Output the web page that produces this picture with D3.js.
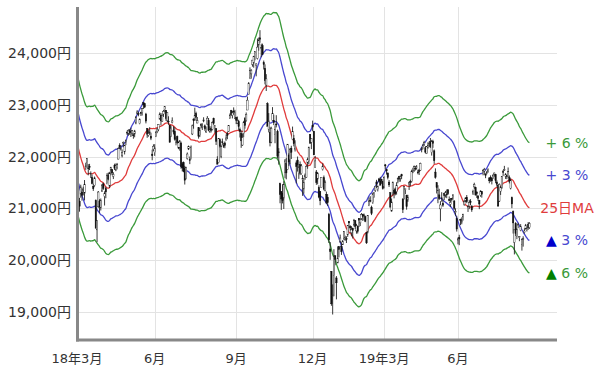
<!DOCTYPE html>
<html>
<head>
<meta charset="utf-8">
<script src="https://cdn.jsdelivr.net/npm/d3@7"></script>
<style>
body { margin: 0; background: #fff; }
text { font-family: "DejaVu Sans", Verdana, "Noto Sans CJK JP", sans-serif; }
</style>
</head>
<body>
<script>
// 日経平均 日足 [始値, 高値, 安値, 終値]
var prior_close = [23669,23631,23629,23291,23098,23486,23274,22682,21610,21645,21891,21383,
	21245,21154,21464,21720,22149,21925,21970,21736,21892,22153,22389,22068];

var m1803 = [[21901,21930,21630,21724],[21469,21517,21083,21181],[21141,21204,20937,21042],[21277,21459,21208,21417],
	[21318,21397,21150,21252],[21353,21421,21252,21368],[21295,21549,21155,21469],[21788,21884,21746,21824],
	[21890,21971,21785,21968],[21782,21857,21640,21777],[21808,21862,21742,21803],[21669,21716,21588,21676],
	[21600,21658,21466,21480],[21430,21478,21339,21380],[21444,21616,21420,21591],[21157,21174,20617,20617],
	[20585,20766,20347,20766],[21030,21337,21012,21317],[21146,21179,20908,21031],[21012,21192,20960,21159],
	[21334,21468,21318,21454]];
var m1804 = [[21476,21498,21359,21388],[21231,21331,21056,21292],[21382,21422,21197,21319],[21477,21682,21466,21645],
	[21644,21695,21544,21567],[21430,21708,21393,21678],[21741,21804,21640,21794],[21756,21757,21655,21687],
	[21620,21700,21568,21660],[21837,21865,21743,21778],[21742,21869,21720,21835],[21789,21880,21755,21847],
	[21954,22183,21950,22158],[22220,22260,22152,22191],[22162,22227,22120,22162],[22016,22141,21987,22088],
	[22265,22294,22183,22278],[22095,22230,22044,22215],[22282,22333,22224,22319],[22473,22504,22421,22467]];
var m1805 = [[22455,22531,22406,22508],[22500,22535,22423,22472],[22488,22561,22381,22467],[22455,22517,22404,22508],
	[22421,22452,22348,22408],[22440,22519,22376,22497],[22652,22790,22628,22758],[22837,22900,22822,22865],
	[22835,22869,22782,22818],[22640,22742,22628,22717],[22857,22869,22789,22838],[22853,22942,22796,22930],
	[23050,23050,22924,23002],[23030,23030,22940,22960],[22826,22849,22645,22689],[22549,22550,22366,22437],
	[22411,22513,22388,22450],[22462,22572,22424,22481],[22398,22465,22321,22358],[22051,22137,21931,22018],
	[22140,22240,22106,22201]];
var m1806 = [[22078,22243,22017,22171],[22391,22496,22380,22475],[22487,22551,22455,22539],[22523,22630,22493,22625],
	[22727,22856,22720,22823],[22805,22845,22605,22694],[22683,22818,22675,22804],[22826,22906,22770,22878],
	[22908,22969,22860,22966],[22899,22902,22694,22738],[22701,22853,22670,22851],[22688,22782,22617,22680],
	[22614,22614,22278,22278],[22394,22604,22380,22555],[22661,22761,22644,22693],[22478,22590,22431,22516],
	[22493,22571,22312,22338],[22279,22379,22220,22342],[22394,22409,22249,22271],[22167,22296,22146,22270],
	[22170,22324,22117,22304]];
var m1807 = [[22266,22293,21768,21811],[21863,21900,21716,21785],[21887,21907,21700,21717],[21770,21824,21462,21546],
	[21569,21806,21566,21788],[21965,22082,21944,22052],[22148,22215,22129,22196],[21943,22004,21857,21932],
	[21964,22217,21949,22187],[22440,22622,22419,22597],[22729,22742,22542,22697],[22738,22949,22694,22794],
	[22838,22871,22701,22764],[22652,22768,22648,22697],[22563,22563,22350,22396],[22414,22561,22380,22510],
	[22618,22649,22548,22614],[22581,22646,22517,22586],[22692,22763,22667,22712],[22598,22623,22502,22544],
	[22480,22585,22459,22553]];
var m1808 = [[22631,22786,22623,22746],[22702,22749,22493,22512],[22478,22588,22467,22525],[22542,22587,22470,22507],
	[22529,22683,22509,22662],[22745,22756,22618,22644],[22588,22614,22467,22598],[22545,22545,22227,22298],
	[21950,22009,21851,21857],[21886,22356,21886,22356],[22330,22357,22173,22204],[22010,22233,21971,22192],
	[22288,22351,22229,22270],[22214,22266,22170,22199],[22267,22296,22164,22219],[22322,22430,22317,22362],
	[22445,22487,22340,22410],[22493,22612,22480,22601],[22743,22836,22738,22799],[22893,22906,22791,22813],
	[22797,22889,22741,22848],[22884,22954,22812,22869],[22744,22907,22728,22865]];
var m1809 = [[22760,22772,22630,22707],[22649,22776,22637,22697],[22681,22715,22508,22580],[22529,22565,22372,22487],
	[22451,22507,22172,22307],[22226,22451,22210,22373],[22450,22694,22378,22664],[22734,22766,22542,22604],
	[22699,22856,22678,22821],[22903,23163,22903,23094],[23202,23444,23202,23420],[23530,23728,23502,23672],
	[23602,23694,23509,23674],[23785,23869,23742,23869],[23812,23951,23722,23940],[23993,24033,23865,24033],
	[23766,23804,23555,23796],[23900,24286,23881,24120]];
var m1810 = [[24160,24306,24051,24245],[24300,24448,24204,24270],[24105,24187,23926,24110],[24148,24187,23975,23975],
	[23822,23860,23687,23783],[23710,23786,23400,23469],[23386,23597,23271,23506],[23024,23052,22590,22590],
	[22532,22844,22471,22694],[22471,22577,22200,22271],[22282,22580,22261,22549],[22701,22959,22695,22841],
	[22704,22813,22611,22658],[22434,22606,22261,22532],[22633,22803,22567,22614],[22490,22523,21966,22010],
	[22094,22166,21846,22091],[21480,21498,21100,21268],[21324,21337,20971,21184],[21290,21469,21097,21149],
	[21198,21526,20989,21457],[21697,21956,21583,21920]];
var m1811 = [[21866,21975,21563,21687],[21751,22243,21742,22243],[22035,22071,21822,21898],[21946,22171,21854,22147],
	[22165,22212,21956,22085],[22333,22583,22333,22486],[22355,22422,22200,22250],[22147,22318,22101,22269],
	[21880,21927,21484,21810],[21936,22003,21713,21846],[21674,21857,21571,21803],[21849,21909,21644,21680],
	[21671,21859,21652,21821],[21556,21644,21243,21583],[21377,21590,21285,21507],[21610,21677,21555,21646],
	[21600,21838,21588,21812],[21877,21984,21767,21952],[21912,22195,21855,22177],[22435,22437,22254,22262],
	[22281,22351,22147,22351]];
var m1812 = [[22611,22698,22492,22574],[22495,22495,22036,22036],[21791,22016,21788,21919],[21705,21743,21456,21501],
	[21569,21703,21466,21679],[21407,21448,21196,21219],[21329,21337,21062,21148],[21399,21602,21398,21602],
	[21751,21871,21734,21816],[21595,21637,21349,21374],[21346,21541,21330,21506],[21274,21326,21086,21115],
	[21215,21277,21048,21110],[20886,20913,20331,20392],[20215,20350,20006,20166],[19785,19785,19117,19155],
	[19302,19530,18948,19327],[19706,20211,19302,20077],[20084,20084,19900,20015]];
var m1901 = [[19655,19692,19241,19561],[19944,20266,19944,20038],[20262,20266,20052,20204],[20366,20494,20331,20427],
	[20270,20345,20101,20163],[20296,20389,20294,20360],[20423,20563,20387,20555],[20391,20473,20376,20442],
	[20416,20462,20331,20402],[20489,20676,20450,20666],[20753,20754,20618,20719],[20653,20675,20570,20622],
	[20528,20656,20460,20593],[20617,20629,20418,20574],[20681,20797,20651,20773],[20768,20771,20600,20649],
	[20565,20702,20512,20664],[20649,20662,20515,20556],[20808,20813,20640,20773]];
var m1902 = [[20720,20808,20659,20788],[20806,20910,20779,20883],[20878,20896,20759,20844],[20875,20901,20770,20874],
	[20842,20861,20734,20751],[20529,20529,20315,20333],[20542,20870,20518,20864],[21054,21213,21045,21144],
	[21157,21236,21119,21139],[21025,21054,20871,20900],[21113,21302,21089,21281],[21208,21316,21207,21302],
	[21347,21432,21318,21431],[21512,21553,21396,21464],[21366,21446,21329,21425],[21572,21590,21502,21528],
	[21555,21610,21449,21449],[21530,21575,21476,21556],[21518,21534,21364,21385]];
var m1903 = [[21417,21622,21387,21602],[21842,21860,21759,21822],[21753,21756,21654,21726],[21686,21692,21562,21596],
	[21509,21548,21416,21456],[21304,21313,21022,21025],[20948,21192,20938,21125],[21305,21520,21247,21503],
	[21346,21390,21195,21290],[21368,21404,21253,21287],[21323,21506,21267,21451],[21560,21598,21486,21584],
	[21613,21629,21514,21566],[21582,21636,21517,21608],[21653,21670,21565,21627],[21182,21198,20911,20977],
	[21187,21435,21173,21428],[21372,21380,21277,21378],[21259,21260,20976,21033],[21163,21263,21127,21206]];
var m1904 = [[21472,21509,21357,21509],[21526,21555,21432,21505],[21523,21749,21501,21713],[21701,21787,21682,21724],
	[21740,21830,21707,21807],[21777,21822,21734,21761],[21800,21838,21751,21802],[21705,21748,21660,21687],
	[21743,21767,21646,21711],[21735,21885,21723,21871],[22133,22182,22085,22169],[22176,22250,22145,22221],
	[22237,22307,22207,22277],[22172,22204,22062,22090],[22062,22204,22052,22200],[22172,22279,22154,22217],
	[22233,22296,22183,22259],[22289,22362,22170,22200],[22081,22326,22022,22307],[22301,22328,22172,22258]];
var m1905 = [[22114,22140,21862,21923],[21703,21775,21576,21602],[21496,21502,21289,21402],[21151,21449,21101,21344],
	[21262,21380,21165,21191],[20991,21140,20751,21067],[21205,21314,21130,21188],[21098,21177,21031,21062],
	[21292,21305,21163,21250],[21262,21339,21211,21301],[21276,21366,21198,21272],[21360,21375,21262,21283],
	[21175,21232,21134,21151],[21078,21201,21028,21117],[21189,21203,21131,21182],[21215,21276,21168,21260],
	[21144,21160,20974,21003],[20920,21002,20856,20942],[20800,20857,20552,20601]];
var m1906 = [[20389,20438,20305,20410],[20437,20490,20289,20408],[20788,20800,20677,20776],[20734,20828,20693,20774],
	[20836,20897,20765,20884],[21075,21164,21052,21134],[21157,21213,21118,21204],[21217,21259,21101,21129],
	[21025,21064,20932,21032],[21045,21167,20986,21116],[21129,21179,21065,21124],[21050,21052,20934,20972],
	[21296,21363,21260,21333],[21416,21497,21379,21462],[21404,21419,21252,21258],[21317,21331,21203,21285],
	[21240,21259,21146,21193],[21155,21165,20985,21086],[21252,21350,21226,21338],[21327,21336,21208,21275]];
var m1907 = [[21674,21758,21640,21729],[21723,21784,21652,21754],[21667,21676,21585,21638],[21684,21725,21662,21702],
	[21722,21774,21692,21746],[21590,21599,21486,21534],[21605,21639,21516,21565],[21578,21602,21464,21533],
	[21620,21664,21572,21643],[21663,21693,21614,21685],[21657,21662,21489,21535],[21512,21545,21421,21469],
	[21448,21461,21031,21046],[21142,21484,21124,21466],[21332,21436,21261,21416],[21393,21626,21385,21620],
	[21713,21744,21625,21709],[21753,21823,21727,21756],[21622,21683,21570,21658],[21643,21644,21566,21616],
	[21615,21792,21603,21709],[21600,21637,21484,21521]];
var m1908 = [[21391,21580,21368,21540],[21211,21229,21005,21087],[20941,20960,20514,20720],[20343,20590,20110,20585],
	[20709,20734,20467,20516],[20459,20615,20405,20593],[20667,20721,20618,20684],[20436,20466,20366,20455],
	[20573,20696,20559,20655],[20306,20420,20184,20405],[20393,20461,20261,20418],[20533,20616,20513,20563],
	[20603,20700,20592,20677],[20571,20645,20554,20618],[20693,20736,20587,20628],[20629,20734,20604,20710]];

var months = [m1803,m1804,m1805,m1806,m1807,m1808,m1809,m1810,m1811,m1812,
	m1901,m1902,m1903,m1904,m1905,m1906,m1907,m1908];
var tick_months = [m1803, m1806, m1809, m1812, m1903, m1906];
var tick_labels = ["18年3月", "6月", "9月", "12月", "19年3月", "6月"];
var y_ticks = [19000, 20000, 21000, 22000, 23000, 24000];
var ma_days = 25;
var band_rates = [0.06, 0.03, 0, -0.03, -0.06];
var band_labels = ["+ 6 %", "+ 3 %", "25日MA", "▲ 3 %", "▲ 6 %"];

draw_chart(600, 372);


function build_days(){
	var days = [];
	var starts = [];
	for (var m = 0; m < months.length; m++){
		starts.push(days.length);
		for (var j = 0; j < months[m].length; j++){
			var r = months[m][j];
			days.push({i: days.length, o: r[0], h: r[1], l: r[2], c: r[3]});
		}
	}
	return {days: days, starts: starts};
}

function moving_average(days){
	var closes = prior_close.slice();
	for (var i = 0; i < days.length; i++) closes.push(days[i].c);
	var ma = [];
	for (var i = 0; i < days.length; i++){
		var end = prior_close.length + i;
		var s = 0;
		for (var k = end - ma_days + 1; k <= end; k++) s += closes[k];
		ma.push(s / ma_days);
	}
	return ma;
}

function draw_chart(w, h){
	var built = build_days();
	var days = built.days;
	var ma = moving_average(days);

	var svg = d3.select("body").append("svg")
		.attr("width", w)
		.attr("height", h);

	var x = d3.scaleLinear().domain([0, 383]).range([77, 557]);
	var y = d3.scaleLinear().domain([18455, 24896]).range([340, 7]);

	// grid
	svg.selectAll("line.hgrid").data(y_ticks).enter().append("line")
		.attr("x1", 77).attr("x2", 557)
		.attr("y1", function(d){ return Math.round(y(d)) + 0.5; })
		.attr("y2", function(d){ return Math.round(y(d)) + 0.5; })
		.attr("stroke", "#e3e3e3").attr("stroke-width", 1);

	var tick_idx = tick_months.map(function(m){ return built.starts[months.indexOf(m)]; });
	svg.selectAll("line.vgrid").data(tick_idx.slice(1)).enter().append("line")
		.attr("x1", function(d){ return Math.round(x(d)) + 0.5; })
		.attr("x2", function(d){ return Math.round(x(d)) + 0.5; })
		.attr("y1", 7).attr("y2", 340)
		.attr("stroke", "#e3e3e3").attr("stroke-width", 1);

	// y labels
	svg.selectAll("text.ylab").data(y_ticks).enter().append("text")
		.attr("x", 71)
		.attr("y", function(d){ return y(d); })
		.attr("dy", "0.36em")
		.attr("text-anchor", "end")
		.attr("font-size", "14px")
		.attr("fill", "#333")
		.text(function(d){ return d3.format(",")(d) + "円"; });

	// x labels
	svg.selectAll("text.xlab").data(tick_idx).enter().append("text")
		.attr("x", function(d){ return x(d); })
		.attr("y", 363)
		.attr("text-anchor", "middle")
		.attr("font-size", "13px")
		.attr("fill", "#333")
		.text(function(d, i){ return tick_labels[i]; });

	// MA and envelopes
	var colors = ["#3a9a3a", "#4848d0", "#e03c3c", "#4848d0", "#3a9a3a"];
	var line = d3.line()
		.x(function(d, i){ return x(i); })
		.y(function(d){ return y(d); })
		.curve(d3.curveMonotoneX);
	for (var b = 0; b < band_rates.length; b++){
		var rate = band_rates[b];
		var vals = ma.map(function(v){ return v * (1 + rate); });
		svg.append("path")
			.datum(vals)
			.attr("d", line)
			.attr("fill", "none")
			.attr("stroke", colors[b])
			.attr("stroke-width", 1.3);

		var lab = svg.append("text")
			.attr("x", 567)
			.attr("y", y(vals[vals.length - 1]))
			.attr("dy", "0.36em")
			.attr("text-anchor", "middle")
			.attr("font-size", "14px")
			.attr("fill", colors[b]);
		var t = band_labels[b];
		if (t[0] == "▲"){
			lab.append("tspan").attr("fill", rate == -0.03 ? "#0000cc" : "#008000").text("▲");
			lab.append("tspan").text(t.slice(1));
		} else {
			lab.text(t);
		}
	}

	// candles
	var g = svg.append("g");
	g.selectAll("line.wick").data(days).enter().append("line")
		.attr("x1", function(d){ return x(d.i); })
		.attr("x2", function(d){ return x(d.i); })
		.attr("y1", function(d){ return y(d.h); })
		.attr("y2", function(d){ return y(d.l); })
		.attr("stroke", "#222")
		.attr("stroke-width", 0.9);
	g.selectAll("rect.body").data(days).enter().append("rect")
		.attr("x", function(d){ return x(d.i) - 0.7; })
		.attr("width", 1.4)
		.attr("y", function(d){ return y(Math.max(d.o, d.c)); })
		.attr("height", function(d){ return Math.max(0.8, Math.abs(y(d.o) - y(d.c))); })
		.attr("fill", function(d){ return d.c >= d.o ? "#fff" : "#111"; })
		.attr("stroke", "#111")
		.attr("stroke-width", 0.4);

	// axes
	svg.append("line")
		.attr("x1", 77.5).attr("x2", 77.5)
		.attr("y1", 7).attr("y2", 341.5)
		.attr("stroke", "#888").attr("stroke-width", 3);
	svg.append("line")
		.attr("x1", 76).attr("x2", 557)
		.attr("y1", 340).attr("y2", 340)
		.attr("stroke", "#888").attr("stroke-width", 3);
}
</script>
</body>
</html>
